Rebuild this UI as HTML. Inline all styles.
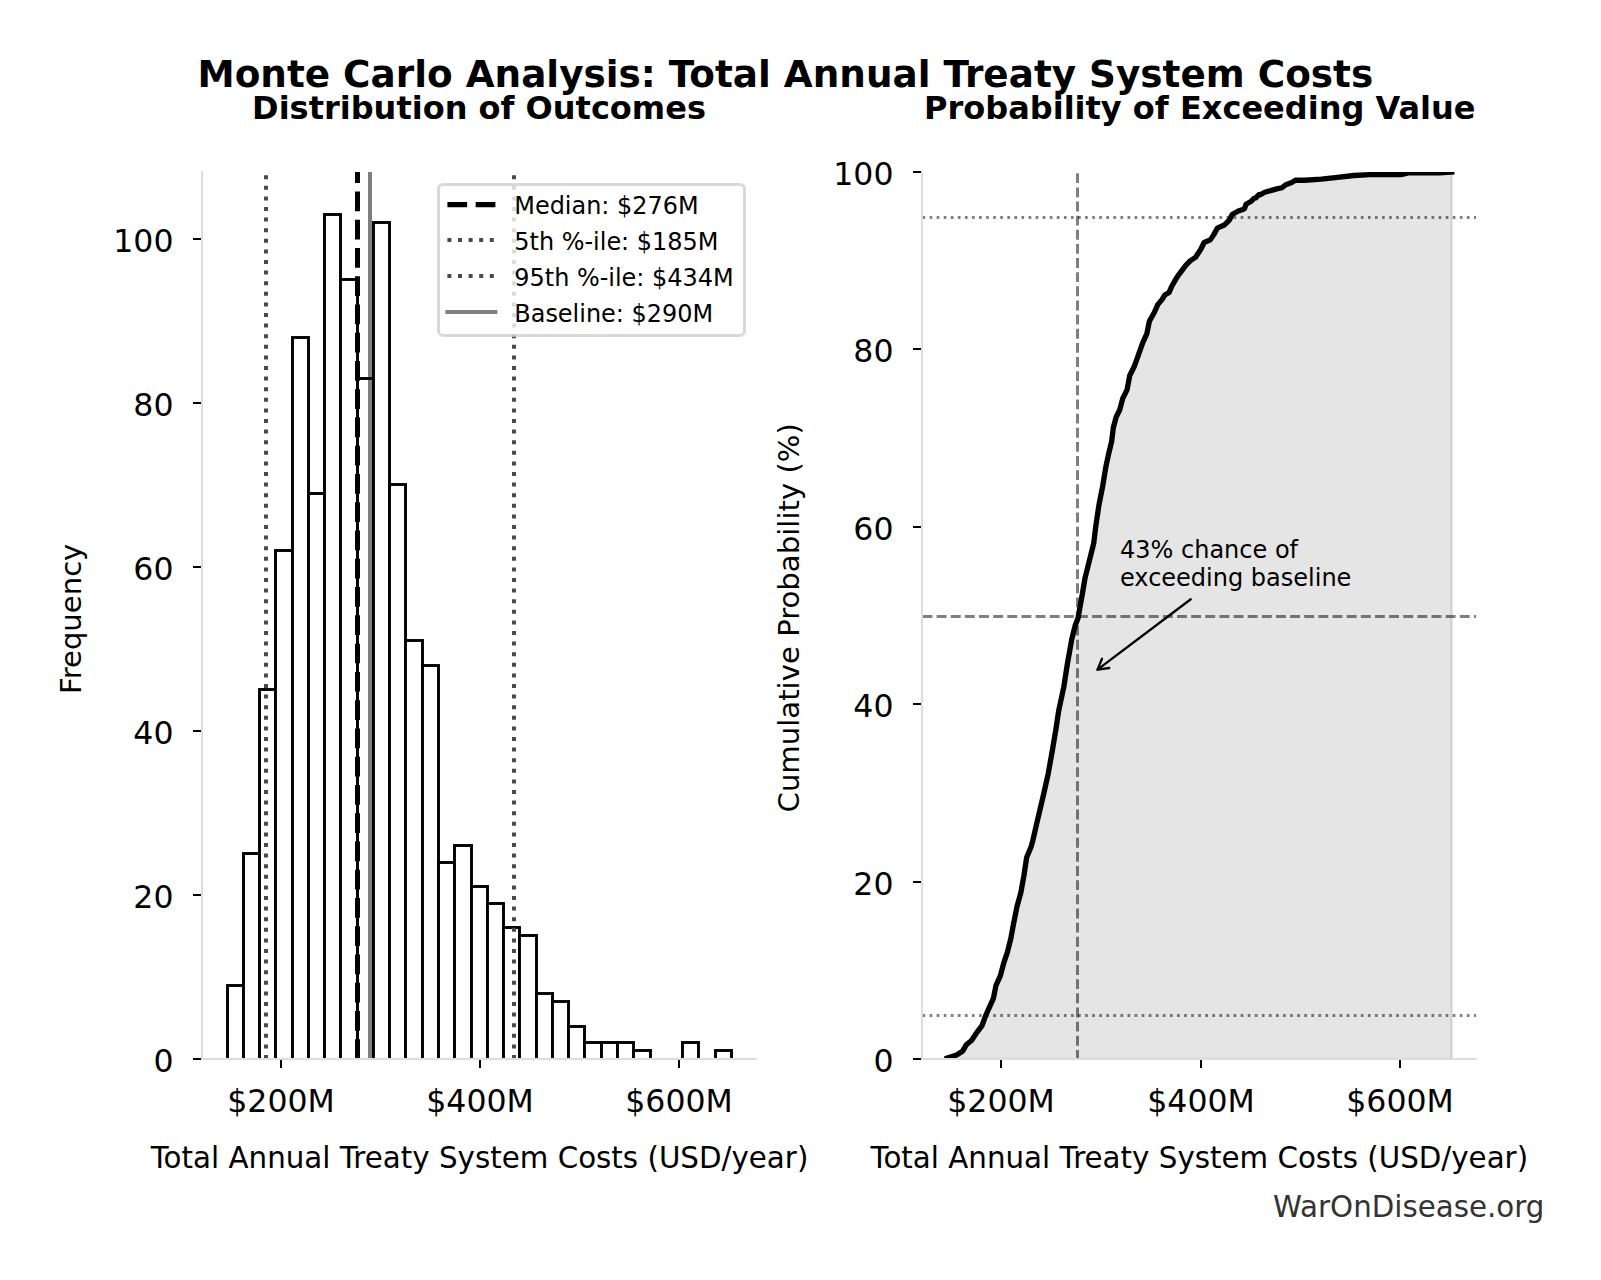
<!DOCTYPE html>
<html lang="en"><head><meta charset="utf-8"><title>Monte Carlo Analysis: Total Annual Treaty System Costs</title>
<style>html,body{margin:0;padding:0;background:#fff}svg{display:block}</style></head>
<body>
<svg width="1601" height="1280" viewBox="0 0 1601 1280" font-family='"DejaVu Sans", "Liberation Sans", sans-serif'>
<rect width="1601" height="1280" fill="#fff"/>
<defs><clipPath id="c0"><rect x="202.0" y="172.0" width="554.0" height="887.0"/></clipPath><clipPath id="c1"><rect x="922.0" y="172.0" width="554.0" height="887.0"/></clipPath></defs>
<g clip-path="url(#c0)">
<g fill="#fff" stroke="#000" stroke-width="2.9" stroke-linejoin="miter">
<rect x="227.5" y="985.5" width="16.0" height="74.0"/>
<rect x="243.5" y="853.5" width="16.0" height="206.0"/>
<rect x="259.5" y="689.5" width="16.0" height="370.0"/>
<rect x="275.5" y="550.5" width="17.0" height="509.0"/>
<rect x="292.5" y="337.5" width="16.0" height="722.0"/>
<rect x="308.5" y="493.5" width="16.0" height="566.0"/>
<rect x="324.5" y="214.5" width="16.0" height="845.0"/>
<rect x="340.5" y="279.5" width="17.0" height="780.0"/>
<rect x="357.5" y="378.5" width="16.0" height="681.0"/>
<rect x="373.5" y="222.5" width="16.0" height="837.0"/>
<rect x="389.5" y="484.5" width="16.0" height="575.0"/>
<rect x="405.5" y="640.5" width="17.0" height="419.0"/>
<rect x="422.5" y="665.5" width="16.0" height="394.0"/>
<rect x="438.5" y="862.5" width="16.0" height="197.0"/>
<rect x="454.5" y="845.5" width="17.0" height="214.0"/>
<rect x="471.5" y="886.5" width="16.0" height="173.0"/>
<rect x="487.5" y="903.5" width="16.0" height="156.0"/>
<rect x="503.5" y="927.5" width="16.0" height="132.0"/>
<rect x="519.5" y="935.5" width="17.0" height="124.0"/>
<rect x="536.5" y="993.5" width="16.0" height="66.0"/>
<rect x="552.5" y="1001.5" width="16.0" height="58.0"/>
<rect x="568.5" y="1026.5" width="16.0" height="33.0"/>
<rect x="584.5" y="1042.5" width="17.0" height="17.0"/>
<rect x="601.5" y="1042.5" width="16.0" height="17.0"/>
<rect x="617.5" y="1042.5" width="16.0" height="17.0"/>
<rect x="633.5" y="1050.5" width="17.0" height="9.0"/>
<rect x="682.5" y="1042.5" width="16.0" height="17.0"/>
<rect x="715.5" y="1050.5" width="16.0" height="9.0"/>
</g>
<line x1="357.50" y1="1059.0" x2="357.50" y2="172.0" stroke="#000" stroke-width="5.00" stroke-dasharray="19.73 8.53"/>
<line x1="266.00" y1="1059.0" x2="266.00" y2="172.0" stroke="#4a4a4a" stroke-width="4.00" stroke-dasharray="4.00 6.60"/>
<line x1="514.00" y1="1059.0" x2="514.00" y2="172.0" stroke="#4a4a4a" stroke-width="4.00" stroke-dasharray="4.00 6.60"/>
<line x1="370.00" y1="1059.0" x2="370.00" y2="172.0" stroke="#000" stroke-width="4.00" stroke-opacity="0.5"/>
</g>
<line x1="201" y1="1059" x2="193" y2="1059" stroke="#000" stroke-width="2"/>
<text x="173.50" y="1072.00" font-size="31.55" text-anchor="end">0</text>
<line x1="201" y1="895" x2="193" y2="895" stroke="#000" stroke-width="2"/>
<text x="173.50" y="908.00" font-size="31.55" text-anchor="end">20</text>
<line x1="201" y1="731" x2="193" y2="731" stroke="#000" stroke-width="2"/>
<text x="173.50" y="744.00" font-size="31.55" text-anchor="end">40</text>
<line x1="201" y1="567" x2="193" y2="567" stroke="#000" stroke-width="2"/>
<text x="173.50" y="580.00" font-size="31.55" text-anchor="end">60</text>
<line x1="201" y1="403" x2="193" y2="403" stroke="#000" stroke-width="2"/>
<text x="173.50" y="416.00" font-size="31.55" text-anchor="end">80</text>
<line x1="201" y1="239" x2="193" y2="239" stroke="#000" stroke-width="2"/>
<text x="173.50" y="252.00" font-size="31.55" text-anchor="end">100</text>
<line x1="281" y1="1060" x2="281" y2="1068" stroke="#000" stroke-width="2"/>
<text x="281.00" y="1112.0" font-size="31.55" text-anchor="middle">$200M</text>
<line x1="480" y1="1060" x2="480" y2="1068" stroke="#000" stroke-width="2"/>
<text x="480.00" y="1112.0" font-size="31.55" text-anchor="middle">$400M</text>
<line x1="679" y1="1060" x2="679" y2="1068" stroke="#000" stroke-width="2"/>
<text x="679.00" y="1112.0" font-size="31.55" text-anchor="middle">$600M</text>
<path d="M202.0 172.0V1059.0H756.0" fill="none" stroke="#ddd" stroke-width="2" stroke-linecap="square"/>
<rect x="438.5" y="184.5" width="306.0" height="150.9" rx="4.6" ry="4.6" fill="#fff" fill-opacity="0.8" stroke="#ccc" stroke-opacity="0.75" stroke-width="3"/>
<line x1="447.4" y1="204.6" x2="495.4" y2="204.6" stroke="#000" stroke-width="5.33" stroke-linecap="butt" stroke-dasharray="19.73 8.53"/>
<text x="514.3" y="214.4" font-size="23.95">Median: $276M</text>
<line x1="447.4" y1="239.9" x2="495.4" y2="239.9" stroke="#4a4a4a" stroke-width="4.00" stroke-linecap="butt" stroke-dasharray="4.00 6.60"/>
<text x="514.3" y="250.2" font-size="23.95">5th %-ile: $185M</text>
<line x1="447.4" y1="276.0" x2="495.4" y2="276.0" stroke="#4a4a4a" stroke-width="4.00" stroke-linecap="butt" stroke-dasharray="4.00 6.60"/>
<text x="514.3" y="286.3" font-size="23.95">95th %-ile: $434M</text>
<line x1="447.4" y1="311.9" x2="495.4" y2="311.9" stroke="#808080" stroke-width="4.00" stroke-linecap="square"/>
<text x="514.3" y="322.0" font-size="23.95">Baseline: $290M</text>
<g clip-path="url(#c1)">
<path d="M947.25 1058.10 L956.63 1054.97 L962.76 1050.94 L966.26 1044.81 L971.51 1040.44 L976.76 1032.56 L982.01 1025.56 L985.86 1015.05 L989.02 1008.05 L993.39 998.42 L996.02 985.30 L1000.39 975.67 L1003.89 962.54 L1007.40 952.04 L1010.90 938.03 L1013.52 924.03 L1017.02 906.52 L1020.88 892.52 L1024.03 875.01 L1026.65 857.51 L1031.03 847.00 L1032.39 842.32 L1037.64 819.56 L1043.41 795.05 L1048.14 774.05 L1052.52 749.54 L1056.02 728.53 L1058.64 711.03 L1063.89 686.52 L1067.40 663.76 L1071.77 639.26 L1075.27 625.25 L1078.01 618.32 L1082.39 593.81 L1085.01 578.06 L1089.39 560.55 L1093.76 543.05 L1095.86 525.54 L1099.02 504.53 L1102.52 487.03 L1106.02 466.02 L1108.64 453.77 L1111.62 441.51 L1113.37 427.51 L1116.17 417.01 L1119.67 410.00 L1122.76 398.32 L1127.13 389.57 L1129.76 375.56 L1134.14 366.81 L1138.51 354.56 L1142.89 342.30 L1146.91 333.55 L1149.37 321.30 L1154.27 312.54 L1157.77 304.67 L1162.14 299.41 L1164.77 295.04 L1169.15 292.41 L1171.77 286.28 L1175.27 280.16 L1177.90 275.78 L1185.78 265.28 L1190.15 260.90 L1195.40 257.40 L1200.66 249.52 L1204.16 242.52 L1210.28 239.89 L1213.79 234.64 L1217.29 228.17 L1224.29 225.02 L1229.54 219.76 L1232.17 214.51 L1238.29 211.01 L1243.54 209.26 L1244.50 208.72 L1246.00 204.22 L1251.24 201.22 L1254.24 198.23 L1255.80 197.88 L1258.74 194.78 L1260.00 194.78 L1264.73 192.23 L1271.48 190.43 L1276.73 188.93 L1281.97 187.73 L1285.72 184.73 L1291.72 182.49 L1295.47 180.24 L1305.00 180.24 L1321.20 179.10 L1337.50 177.30 L1353.80 175.50 L1370.00 174.70 L1401.00 174.70 L1408.00 172.90 L1440.00 172.90 L1451.70 172.00 L1451.70 1059.0 L947.25 1059.0 Z" fill="#000" fill-opacity="0.1" stroke="#000" stroke-opacity="0.1" stroke-width="2.67"/>
<line x1="922.5" y1="1015.5" x2="1476.0" y2="1015.5" stroke="#000" stroke-opacity="0.5" stroke-width="3" stroke-dasharray="2.67 4.40"/>
<line x1="922.5" y1="217.5" x2="1476.0" y2="217.5" stroke="#000" stroke-opacity="0.5" stroke-width="3" stroke-dasharray="2.67 4.40"/>
<line x1="922.5" y1="616.5" x2="1476.0" y2="616.5" stroke="#000" stroke-opacity="0.5" stroke-width="3" stroke-dasharray="9.87 4.27"/>
<line x1="1077.5" y1="1059.8" x2="1077.5" y2="172.0" stroke="#000" stroke-opacity="0.5" stroke-width="3" stroke-dasharray="9.87 4.27"/>
<path d="M947.25 1058.10 L956.63 1054.97 L962.76 1050.94 L966.26 1044.81 L971.51 1040.44 L976.76 1032.56 L982.01 1025.56 L985.86 1015.05 L989.02 1008.05 L993.39 998.42 L996.02 985.30 L1000.39 975.67 L1003.89 962.54 L1007.40 952.04 L1010.90 938.03 L1013.52 924.03 L1017.02 906.52 L1020.88 892.52 L1024.03 875.01 L1026.65 857.51 L1031.03 847.00 L1032.39 842.32 L1037.64 819.56 L1043.41 795.05 L1048.14 774.05 L1052.52 749.54 L1056.02 728.53 L1058.64 711.03 L1063.89 686.52 L1067.40 663.76 L1071.77 639.26 L1075.27 625.25 L1078.01 618.32 L1082.39 593.81 L1085.01 578.06 L1089.39 560.55 L1093.76 543.05 L1095.86 525.54 L1099.02 504.53 L1102.52 487.03 L1106.02 466.02 L1108.64 453.77 L1111.62 441.51 L1113.37 427.51 L1116.17 417.01 L1119.67 410.00 L1122.76 398.32 L1127.13 389.57 L1129.76 375.56 L1134.14 366.81 L1138.51 354.56 L1142.89 342.30 L1146.91 333.55 L1149.37 321.30 L1154.27 312.54 L1157.77 304.67 L1162.14 299.41 L1164.77 295.04 L1169.15 292.41 L1171.77 286.28 L1175.27 280.16 L1177.90 275.78 L1185.78 265.28 L1190.15 260.90 L1195.40 257.40 L1200.66 249.52 L1204.16 242.52 L1210.28 239.89 L1213.79 234.64 L1217.29 228.17 L1224.29 225.02 L1229.54 219.76 L1232.17 214.51 L1238.29 211.01 L1243.54 209.26 L1244.50 208.72 L1246.00 204.22 L1251.24 201.22 L1254.24 198.23 L1255.80 197.88 L1258.74 194.78 L1260.00 194.78 L1264.73 192.23 L1271.48 190.43 L1276.73 188.93 L1281.97 187.73 L1285.72 184.73 L1291.72 182.49 L1295.47 180.24 L1305.00 180.24 L1321.20 179.10 L1337.50 177.30 L1353.80 175.50 L1370.00 174.70 L1401.00 174.70 L1408.00 172.90 L1440.00 172.90 L1451.70 172.00" fill="none" stroke="#000" stroke-width="5.33" stroke-linejoin="round" stroke-linecap="square"/>
</g>
<line x1="921" y1="1059" x2="913" y2="1059" stroke="#000" stroke-width="2"/>
<text x="893.50" y="1072.00" font-size="31.55" text-anchor="end">0</text>
<line x1="921" y1="882" x2="913" y2="882" stroke="#000" stroke-width="2"/>
<text x="893.50" y="895.00" font-size="31.55" text-anchor="end">20</text>
<line x1="921" y1="704" x2="913" y2="704" stroke="#000" stroke-width="2"/>
<text x="893.50" y="717.00" font-size="31.55" text-anchor="end">40</text>
<line x1="921" y1="527" x2="913" y2="527" stroke="#000" stroke-width="2"/>
<text x="893.50" y="540.00" font-size="31.55" text-anchor="end">60</text>
<line x1="921" y1="349" x2="913" y2="349" stroke="#000" stroke-width="2"/>
<text x="893.50" y="362.00" font-size="31.55" text-anchor="end">80</text>
<line x1="921" y1="172" x2="913" y2="172" stroke="#000" stroke-width="2"/>
<text x="893.50" y="185.00" font-size="31.55" text-anchor="end">100</text>
<line x1="1001" y1="1060" x2="1001" y2="1068" stroke="#000" stroke-width="2"/>
<text x="1001.00" y="1112.0" font-size="31.55" text-anchor="middle">$200M</text>
<line x1="1201" y1="1060" x2="1201" y2="1068" stroke="#000" stroke-width="2"/>
<text x="1201.00" y="1112.0" font-size="31.55" text-anchor="middle">$400M</text>
<line x1="1400" y1="1060" x2="1400" y2="1068" stroke="#000" stroke-width="2"/>
<text x="1400.00" y="1112.0" font-size="31.55" text-anchor="middle">$600M</text>
<path d="M922.0 172.0V1059.0H1476.0" fill="none" stroke="#ddd" stroke-width="2" stroke-linecap="square"/>
<text font-size="24" x="1120" y="557.5">43% chance of</text>
<text font-size="24" x="1120" y="585.5">exceeding baseline</text>
<g fill="none" stroke="#000" stroke-width="2.3" stroke-linecap="round" stroke-linejoin="round"><path d="M1190.75 599.25L1097.5 669.6"/><path d="M1102 658.75L1097.5 669.6L1109.25 668"/></g>
<text x="785.3" y="86.5" font-size="37.37" font-weight="bold" text-anchor="middle">Monte Carlo Analysis: Total Annual Treaty System Costs</text>
<text x="479.0" y="119.0" font-size="32" font-weight="bold" text-anchor="middle">Distribution of Outcomes</text>
<text x="1199.8" y="119.0" font-size="32" font-weight="bold" text-anchor="middle">Probability of Exceeding Value</text>
<text x="479.5" y="1168.3" font-size="29.33" text-anchor="middle">Total Annual Treaty System Costs (USD/year)</text>
<text x="1199.3" y="1168.3" font-size="29.33" text-anchor="middle">Total Annual Treaty System Costs (USD/year)</text>
<text transform="translate(80.9 618.8) rotate(-90)" font-size="29.1" text-anchor="middle">Frequency</text>
<text transform="translate(799.1 617.8) rotate(-90)" font-size="29.15" text-anchor="middle">Cumulative Probability (%)</text>
<text x="1273" y="1216.6" font-size="29.3" fill="#333">WarOnDisease.org</text>
</svg>
</body></html>
